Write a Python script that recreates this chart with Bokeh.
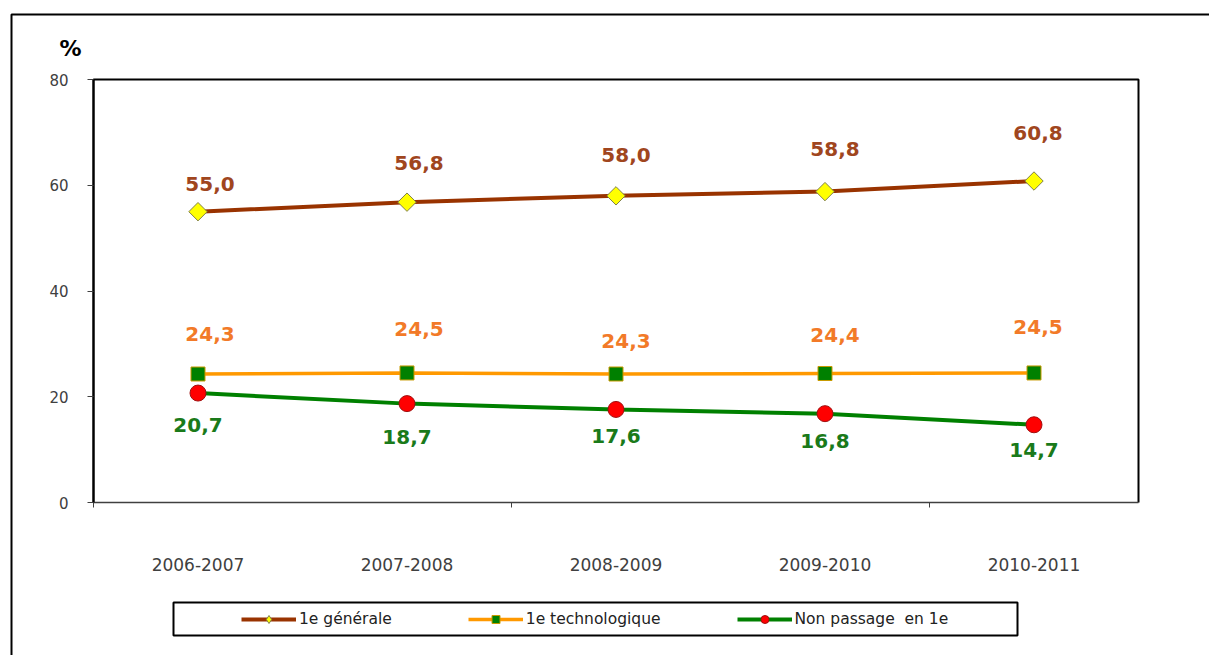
import math
from bokeh.plotting import figure
from bokeh.models import (Range1d, FixedTicker, ColumnDataSource, Legend, LegendItem,
                          BoxAnnotation, Label)
from bokeh.core.properties import value
from bokeh.embed import file_html
from bokeh.resources import INLINE

# ---- data ----
categories = ["2006-2007", "2007-2008", "2008-2009", "2009-2010", "2010-2011"]
generale = [55.0, 56.8, 58.0, 58.8, 60.8]
technologique = [24.3, 24.5, 24.3, 24.4, 24.5]
non_passage = [20.7, 18.7, 17.6, 16.8, 14.7]
series_names = ["1e générale", "1e technologique", "Non passage  en 1e"]
y_ticks = [0, 20, 40, 60, 80]

# ---- label placement (screen px, styling only) ----
gen_dx = [12, 12, 10, 10, 4]
gen_dy = [-28, -39, -41, -43, -48]
tec_dx = [12, 12, 10, 10, 4]
tec_dy = [-40, -44, -33, -38, -46]
non_dx = [0, 0, 0, 0, 0]
non_dy = [32, 33, 27, 27, 25]

# ---- layout (pixels) ----
W, H = 1209, 655
PX_LEFT, PX_RIGHT, PX_TOP, PX_BOTTOM = 93, 1138, 79, 502
FONT = "DejaVu Sans"

n = len(categories)
y_max = y_ticks[-1]
xs = [i + 0.5 for i in range(n)]
xpp = n / (PX_RIGHT - PX_LEFT)
ypp = y_max / (PX_BOTTOM - PX_TOP)


def fmt(v):
    return f"{v:.1f}".replace(".", ",")


p = figure(width=W, height=H, output_backend="svg", toolbar_location=None,
           x_range=Range1d(-PX_LEFT * xpp, n + (W - PX_RIGHT) * xpp),
           y_range=Range1d(-(H - PX_BOTTOM) * ypp, y_max + PX_TOP * ypp),
           min_border_left=0, min_border_right=0, min_border_top=0,
           min_border_bottom=0)
p.background_fill_color = "white"
p.border_fill_color = "white"
p.xgrid.visible = False
p.ygrid.visible = False
p.outline_line_color = None

# plot-area border (left, top, right)
p.line(x=[0, 0, n, n], y=[0, y_max, y_max, 0], line_color="black", line_width=2)

# y axis
ya = p.yaxis[0]
ya.fixed_location = 0
ya.bounds = (0, y_max)
ya.ticker = FixedTicker(ticks=y_ticks, minor_ticks=[])
ya.axis_line_color = "black"
ya.axis_line_width = 2
ya.major_tick_out = 6
ya.major_tick_in = 0
ya.major_tick_line_color = "#404040"
ya.minor_tick_line_color = None
ya.major_label_text_font = FONT
ya.major_label_text_font_size = "15px"
ya.major_label_text_color = "#404040"
ya.major_label_standoff = 19

# x axis
xa = p.xaxis[0]
xa.fixed_location = 0
xa.bounds = (0, n)
xa.ticker = FixedTicker(ticks=xs, minor_ticks=[0, 2, 4])
xa.major_label_overrides = {x: c for x, c in zip(xs, categories)}
xa.axis_line_color = "#404040"
xa.axis_line_width = 1.5
xa.major_tick_line_color = None
xa.major_tick_out = 0
xa.major_tick_in = 0
xa.minor_tick_line_color = "#404040"
xa.minor_tick_out = 5
xa.minor_tick_in = 0
xa.major_label_text_font = FONT
xa.major_label_text_font_size = "17px"
xa.major_label_text_color = "#404040"
xa.major_label_standoff = 50

styles = [
    dict(vals=generale, dx=gen_dx, dy=gen_dy, line="#993300", lw=4, marker="square",
         angle=math.pi / 4, size=13, fill="#FFFF00", mline="#80804a", text="#A0461E",
         lmarker="diamond", lsize=11),
    dict(vals=technologique, dx=tec_dx, dy=tec_dy, line="#FF9900", lw=3.5, marker="square",
         angle=0, size=14, fill="#008000", mline="#C89A00", text="#F27A28",
         lmarker="square", lsize=9),
    dict(vals=non_passage, dx=non_dx, dy=non_dy, line="#008000", lw=4, marker="circle",
         angle=0, size=16, fill="#FF0000", mline="#A01010", text="#1A7A1A",
         lmarker="circle", lsize=10),
]

items = []
for name, st in zip(series_names, styles):
    src = ColumnDataSource(dict(x=xs, y=st["vals"], lbl=[fmt(v) for v in st["vals"]],
                                dx=st["dx"], dy=st["dy"]))
    lr = p.line("x", "y", source=src, line_color=st["line"], line_width=st["lw"])
    # small markers (hidden under the large ones) used for the legend glyph
    small = p.scatter("x", "y", source=src, marker=st["lmarker"], size=st["lsize"],
                      fill_color=st["fill"], line_color=st["mline"], line_width=1)
    p.scatter("x", "y", source=src, marker=st["marker"], angle=st["angle"], size=st["size"],
              fill_color=st["fill"], line_color=st["mline"], line_width=1)
    p.text("x", "y", text="lbl", x_offset="dx", y_offset="dy", source=src,
           text_font=value(FONT), text_font_style="bold", text_font_size="20px",
           text_color=st["text"], text_align="center", text_baseline="middle")
    items.append(LegendItem(label=name, renderers=[lr, small], index=0))

legend = Legend(items=items, orientation="horizontal", location=(241, H - 629),
                glyph_width=55, glyph_height=20, label_standoff=3, spacing=76,
                padding=6, margin=0, border_line_color=None, background_fill_alpha=0,
                label_text_font=FONT, label_text_font_size="15.5px",
                label_text_color="#222222")
p.add_layout(legend)

# outer chart border and legend box
p.add_layout(BoxAnnotation(left=11, right=1400, top=14, bottom=2000,
                           left_units="canvas", right_units="canvas",
                           top_units="canvas", bottom_units="canvas",
                           fill_alpha=0, line_color="black", line_alpha=1, line_width=2))
p.add_layout(BoxAnnotation(left=173, right=1017, top=602, bottom=635,
                           left_units="canvas", right_units="canvas",
                           top_units="canvas", bottom_units="canvas",
                           fill_alpha=0, line_color="black", line_alpha=1, line_width=2))

p.add_layout(Label(x=70, y=48, x_units="canvas", y_units="canvas", text="%",
                   text_font=FONT, text_font_style="bold", text_font_size="22px",
                   text_color="black", text_align="center", text_baseline="middle"))

open("out.html", "w").write(file_html(p, INLINE))
